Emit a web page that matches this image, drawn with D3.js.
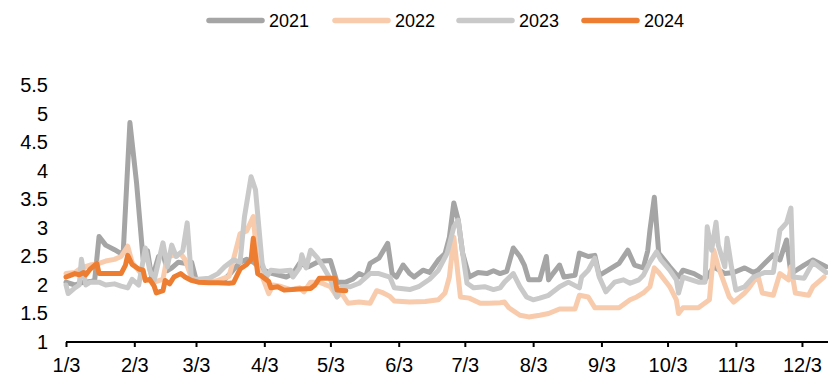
<!DOCTYPE html>
<html>
<head>
<meta charset="utf-8">
<script src="https://cdn.jsdelivr.net/npm/d3@7/dist/d3.min.js"></script>
<style>
  html, body { margin: 0; padding: 0; background: #fff; }
  svg { display: block; font-family: "Liberation Sans", Arial, sans-serif; }
</style>
</head>
<body>
<svg id="chart" width="828" height="377"></svg>
<script>
// Daily readings per year, keyed by month-day (drawn on a shared Jan–Dec calendar)
const dates2021 = ["01-03","01-07","01-10","01-14","01-16","01-18","01-21","01-25","01-28","01-29","02-01","02-04","02-07","02-09","02-11","02-14","02-16","02-18","02-20","02-23","02-26","03-01","03-03","03-08","03-12","03-16","03-19","03-23","03-26","03-29","04-01","04-05","04-09","04-13","04-16","04-19","04-23","04-27","04-30","05-03","05-06","05-10","05-13","05-16","05-19","05-21","05-25","05-29","05-31","06-02","06-05","06-08","06-10","06-14","06-17","06-21","06-24","06-26","06-28","06-30","07-02","07-05","07-09","07-13","07-16","07-19","07-22","07-25","07-28","07-30","08-01","08-06","08-09","08-10","08-12","08-15","08-17","08-22","08-24","08-28","08-31","09-02","09-06","09-11","09-15","09-18","09-22","09-24","09-25","09-27","09-29","10-04","10-08","10-10","10-15","10-20","10-24","10-29","11-02","11-07","11-11","11-13","11-20","11-23","11-26","11-28","12-04","12-08","12-14"];
const values2021 = [2.05,2.00,2.04,2.06,2.08,2.85,2.70,2.62,2.55,2.60,4.85,3.80,2.45,2.60,2.10,2.50,2.55,2.25,2.30,2.40,2.38,2.40,2.10,2.05,2.06,2.10,2.22,2.40,2.45,2.40,2.30,2.22,2.18,2.14,2.20,2.38,2.32,2.40,2.42,2.43,2.05,2.05,2.10,2.20,2.15,2.38,2.47,2.73,2.20,2.14,2.35,2.20,2.14,2.26,2.22,2.44,2.55,2.84,3.44,3.14,2.56,2.14,2.22,2.20,2.25,2.20,2.24,2.65,2.50,2.35,2.09,2.09,2.50,2.09,2.20,2.35,2.14,2.17,2.56,2.50,2.52,2.17,2.26,2.38,2.61,2.35,2.30,2.60,2.96,3.54,2.56,2.32,2.14,2.26,2.20,2.09,2.32,2.20,2.22,2.30,2.22,2.26,2.53,2.44,2.79,2.20,2.35,2.44,2.32];

const dates2022 = ["01-03","01-07","01-10","01-14","01-18","01-21","01-25","01-28","01-31","02-02","02-05","02-08","02-12","02-16","02-18","02-21","02-24","02-26","03-01","03-04","03-09","03-13","03-18","03-20","03-23","03-26","03-29","03-31","04-02","04-05","04-07","04-10","04-15","04-19","04-21","04-24","04-28","05-03","05-06","05-08","05-11","05-16","05-21","05-24","05-27","05-30","06-01","06-08","06-15","06-21","06-24","06-26","06-28","06-29","07-01","07-05","07-10","07-14","07-19","07-21","07-23","07-28","08-01","08-06","08-10","08-15","08-22","08-24","08-28","08-31","09-04","09-11","09-16","09-19","09-22","09-25","09-27","09-29","10-04","10-07","10-08","10-10","10-17","10-22","10-24","10-26","10-31","11-02","11-07","11-09","11-13","11-15","11-20","11-23","11-27","11-28","11-30","12-06","12-08","12-13"];
const values2022 = [2.20,2.22,2.30,2.35,2.38,2.42,2.45,2.50,2.68,2.40,2.25,2.10,2.05,2.10,2.50,2.52,2.55,2.45,2.12,2.08,2.05,2.08,2.15,2.45,2.90,2.95,3.20,2.30,2.15,1.85,2.00,1.98,1.92,1.95,1.88,2.05,2.05,1.97,1.79,1.86,1.68,1.70,1.68,1.90,1.86,1.80,1.72,1.70,1.71,1.74,1.86,2.14,2.84,2.50,1.79,1.77,1.68,1.68,1.69,1.70,1.60,1.47,1.44,1.47,1.50,1.58,1.58,1.82,1.79,1.60,1.60,1.60,1.74,1.79,1.86,1.97,2.30,2.22,1.97,1.74,1.50,1.60,1.60,1.74,2.61,2.32,1.79,1.70,1.86,1.95,2.17,1.86,1.82,2.20,2.09,2.32,1.86,1.82,1.97,2.14];

const dates2023 = ["01-03","01-04","01-07","01-09","01-10","01-12","01-14","01-18","01-21","01-25","01-28","01-31","02-02","02-05","02-08","02-10","02-12","02-16","02-18","02-20","02-22","02-25","02-27","03-01","03-04","03-09","03-13","03-16","03-20","03-23","03-25","03-28","03-30","04-02","04-04","04-06","04-10","04-15","04-16","04-19","04-20","04-22","04-24","04-27","04-30","05-03","05-06","05-08","05-12","05-16","05-21","05-25","05-30","06-01","06-08","06-12","06-17","06-21","06-25","06-28","06-30","07-02","07-04","07-07","07-12","07-16","07-19","07-21","07-25","07-28","07-31","08-03","08-06","08-10","08-15","08-19","08-24","08-25","08-28","08-31","09-02","09-05","09-09","09-13","09-16","09-20","09-22","09-25","09-28","09-30","10-04","10-07","10-08","10-10","10-17","10-20","10-21","10-23","10-25","10-26","10-29","10-30","11-01","11-03","11-07","11-11","11-16","11-20","11-23","11-26","11-28","11-29","12-04","12-08","12-14"];
const values2023 = [2.00,1.85,1.95,2.00,2.45,2.00,2.05,2.05,2.00,2.02,1.98,1.95,2.10,2.00,2.65,2.26,2.08,2.74,2.32,2.70,2.50,2.60,3.09,2.09,2.10,2.12,2.20,2.32,2.44,2.40,3.20,3.90,3.67,2.38,2.14,2.26,2.24,2.26,2.14,2.30,2.53,2.30,2.61,2.48,2.30,2.10,1.79,1.97,1.97,2.03,2.20,2.20,2.14,1.95,1.92,1.97,2.10,2.26,2.56,3.02,3.14,2.56,2.03,1.95,1.97,1.92,1.95,2.05,2.20,1.97,1.79,1.74,1.77,1.82,1.97,2.05,1.95,2.14,2.26,2.47,2.14,1.88,2.05,2.09,2.03,2.09,2.17,2.40,2.58,2.44,2.26,2.09,1.86,2.14,2.05,2.05,3.02,2.61,3.10,2.70,2.32,2.82,2.32,1.91,1.97,2.14,2.22,2.22,2.96,3.09,3.35,2.14,2.12,2.40,2.22];

const dates2024 = ["01-03","01-05","01-07","01-09","01-11","01-12","01-14","01-17","01-18","01-21","01-25","01-28","01-30","01-31","02-02","02-05","02-07","02-08","02-10","02-12","02-13","02-16","02-17","02-19","02-21","02-24","02-26","03-01","03-04","03-09","03-13","03-18","03-20","03-23","03-26","03-28","03-29","03-31","04-02","04-05","04-06","04-09","04-12","04-19","04-24","04-26","04-28","05-03","05-05","05-06","05-10"];
const values2024 = [2.14,2.17,2.20,2.18,2.22,2.18,2.28,2.38,2.20,2.20,2.20,2.20,2.35,2.52,2.36,2.28,2.26,2.08,2.10,1.98,1.86,1.90,2.08,2.02,2.14,2.20,2.14,2.08,2.05,2.04,2.04,2.03,2.04,2.28,2.36,2.45,2.82,2.20,2.15,2.06,1.95,1.97,1.91,1.93,1.94,2.00,2.12,2.12,2.12,1.91,1.90];

const seriesNames = ["2021", "2022", "2023", "2024"];
const seriesColors = ["#A5A5A5", "#F8CBAD", "#C9C9C9", "#ED7D31"];
const seriesDates = [dates2021, dates2022, dates2023, dates2024];
const seriesValues = [values2021, values2022, values2023, values2024];

const xTickLabels = ["1/3","2/3","3/3","4/3","5/3","6/3","7/3","8/3","9/3","10/3","11/3","12/3"];
const yTicks = [1, 1.5, 2, 2.5, 3, 3.5, 4, 4.5, 5, 5.5];

// Shared calendar year used only to lay month-days on one axis
const parseDay = d3.timeParse("%Y-%m-%d");
const toDate = md => parseDay("2021-" + md);

const svg = d3.select("#chart");
const plotLeft = 66, plotRight = 828.4, plotTop = 85.5, plotBottom = 342;

const x = d3.scaleTime()
  .domain([toDate("01-03"), toDate("12-15")])
  .range([plotLeft, plotRight]);
const y = d3.scaleLinear().domain([1, 5.5]).range([plotBottom, plotTop]);

// Lines, earliest year first so later years sit on top
const line = d3.line()
  .x(d => x(d.date))
  .y(d => y(d.value))
  .curve(d3.curveLinear);

const series = seriesNames.map((name, i) => ({
  name,
  color: seriesColors[i],
  points: seriesDates[i].map((md, j) => ({ date: toDate(md), value: seriesValues[i][j] }))
}));

svg.append("defs").append("clipPath").attr("id", "plotClip")
  .append("rect").attr("x", plotLeft - 5).attr("y", 0)
  .attr("width", plotRight - plotLeft + 5).attr("height", plotBottom);

const plot = svg.append("g").attr("clip-path", "url(#plotClip)");
plot.selectAll("path.series")
  .data(series)
  .join("path")
  .attr("class", "series")
  .attr("fill", "none")
  .attr("stroke", d => d.color)
  .attr("stroke-width", 5)
  .attr("stroke-linejoin", "round")
  .attr("stroke-linecap", "round")
  .attr("d", d => line(d.points));

// Y axis: labels only
const yAxis = d3.axisLeft(y)
  .tickValues(yTicks)
  .tickSize(0)
  .tickPadding(0)
  .tickFormat(d3.format(""));
const yg = svg.append("g").attr("transform", "translate(48,0)").call(yAxis);
yg.select(".domain").remove();
yg.selectAll("text")
  .attr("font-size", 20)
  .attr("fill", "#000")
  .attr("font-family", "'Liberation Sans', Arial, sans-serif");

// X axis with month ticks
const xTickDates = xTickLabels.map(l => {
  const [m, dd] = l.split("/");
  return toDate(String(m).padStart(2, "0") + "-" + String(dd).padStart(2, "0"));
});
const xAxis = d3.axisBottom(x)
  .tickValues(xTickDates)
  .tickSize(5)
  .tickSizeOuter(0)
  .tickPadding(11)
  .tickFormat((d, i) => xTickLabels[i]);
const xg = svg.append("g").attr("transform", `translate(0,${plotBottom})`).call(xAxis);
xg.select(".domain").attr("stroke", "#000").attr("stroke-width", 2)
  .attr("d", `M${plotLeft},0H${plotRight}`);
xg.selectAll(".tick line").attr("stroke", "#000").attr("stroke-width", 2);
xg.selectAll("text")
  .attr("font-size", 20)
  .attr("fill", "#000")
  .attr("font-family", "'Liberation Sans', Arial, sans-serif");

// Legend
const legendX = [207, 333, 457, 582];
const legend = svg.append("g");
series.forEach((s, i) => {
  const g = legend.append("g").attr("transform", `translate(${legendX[i]},20.5)`);
  g.append("line")
    .attr("x1", 2).attr("x2", 55)
    .attr("stroke", s.color)
    .attr("stroke-width", 5.5)
    .attr("stroke-linecap", "round");
  g.append("text")
    .attr("x", 62).attr("y", 6.5)
    .attr("font-size", 18)
    .attr("fill", "#000")
    .text(s.name);
});
</script>
</body>
</html>
